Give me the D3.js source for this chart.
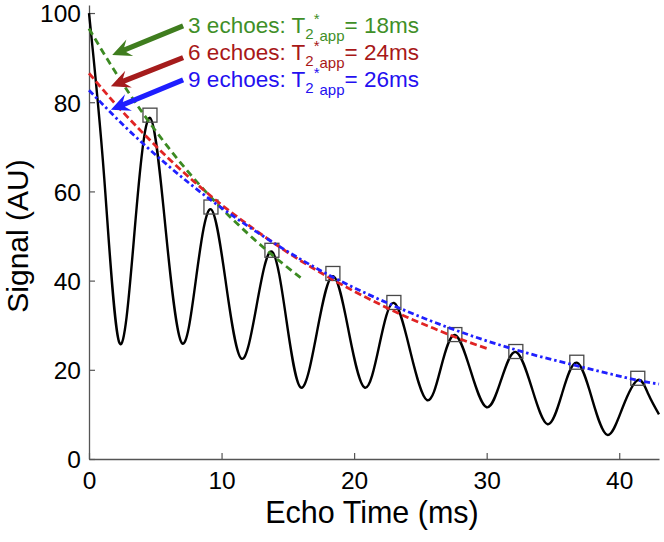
<!DOCTYPE html>
<html><head><meta charset="utf-8">
<script src="https://cdn.jsdelivr.net/npm/d3@7"></script>
<style>
body{margin:0;background:#fff}
svg{display:block}
text{font-family:"Liberation Sans",Arial,Helvetica,sans-serif}
</style>
</head><body>
<svg id="c" width="664" height="542"></svg>
<script>
// ---- data ----
const signalTime  = [0, 1.15, 2.3, 3.45, 4.6, 5.8, 7.0, 8.1, 9.2, 10.35, 11.5, 12.65, 13.8, 14.9, 16.0, 17.2, 18.4, 19.6, 20.8, 21.9, 23.0, 24.25, 25.5, 26.55, 27.6, 28.8, 30.0, 31.1, 32.2, 33.4, 34.6, 35.7, 36.8, 37.95, 39.1, 40.25, 41.4, 42.2, 43.0];
const signalValue = [100, 63, 26, 51.5, 76.5, 51, 26, 41, 56, 39, 22.5, 34.5, 46.5, 31, 16, 28.5, 41, 28.5, 16, 25.5, 35, 24, 13.2, 20.5, 27.8, 19.7, 11.6, 17.8, 24, 16, 7.8, 14.8, 21.6, 13.5, 5.4, 11.5, 17.7, 14.5, 10];

const echoTime  = [4.6, 9.2, 13.8, 18.4, 23.0, 27.6, 32.2, 36.8, 41.4];
const echoValue = [77.1, 56.5, 46.8, 41.6, 35.1, 27.9, 24.1, 21.7, 18.1];

const fit3Time  = [0, 2, 4, 6, 8, 10, 12, 14, 16];
const fit3Value = [96.5, 86.7, 77.8, 69.8, 62.6, 56.2, 50.5, 45.3, 40.6];
const fit6Time  = [0, 2, 4, 6, 8, 10, 12, 14, 16, 18, 20, 22, 24, 26, 28, 30];
const fit6Value = [86.5, 79.6, 73.3, 67.4, 62.0, 57.0, 52.5, 48.3, 44.4, 40.9, 37.6, 34.6, 31.8, 29.3, 26.9, 24.8];
const fit9Time  = [0, 3, 6, 9, 12, 15, 18, 21, 24, 27, 30, 33, 36, 39, 42, 43];
const fit9Value = [82.7, 73.7, 65.7, 58.5, 52.2, 46.5, 41.4, 37.0, 33.1, 29.6, 26.5, 23.8, 21.5, 19.3, 17.3, 16.8];

const fitEchoes = ["3", "6", "9"];
const fitT2     = ["18", "24", "26"];
const fitColors = ["#3c8a22", "#e02424", "#2020ff"];
const textColors = ["#3f8f28", "#a81818", "#2410f0"];
const arrowColors = ["#3f7d1e", "#a51c1c", "#1e1eff"];

const xTicks = [0, 10, 20, 30, 40];
const yTicks = [0, 20, 40, 60, 80, 100];
const xTitle = "Echo Time (ms)";
const yTitle = "Signal (AU)";

// annotation anchors (data coords)
const arrowTailT = [7.1, 7.1, 7.1];
const arrowTailV = [97.1, 90.0, 85.0];
const arrowTipT  = [1.75, 1.65, 1.65];
const arrowTipV  = [90.6, 83.6, 78.3];

// ---- chart ----
const svg = d3.select("#c");
const x = d3.scaleLinear().domain([0, 43]).range([89, 659]);
const y = d3.scaleLinear().domain([0, 101.8]).range([459, 5]);

const axisColor = "#555";
const gx = svg.append("g").attr("transform", `translate(0,${y(0)})`)
  .call(d3.axisBottom(x).tickValues(xTicks).tickSizeInner(-6).tickSizeOuter(0).tickPadding(13));
const gy = svg.append("g").attr("transform", `translate(${x(0)},0)`)
  .call(d3.axisLeft(y).tickValues(yTicks).tickSizeInner(-6).tickSizeOuter(0).tickPadding(8));
[gx, gy].forEach(g => {
  g.select(".domain").attr("stroke", axisColor).attr("stroke-width", 1.3);
  g.selectAll(".tick line").attr("stroke", axisColor).attr("stroke-width", 1.2);
  g.selectAll(".tick text").attr("fill", "#000").style("font-size", "24.5px")
    .style("font-family", '"Liberation Sans",Arial,sans-serif');
});
gy.selectAll(".tick text").attr("dy", "0.36em");

svg.append("text").attr("x", (x(0) + x(43)) / 2 - 2).attr("y", 523)
  .attr("text-anchor", "middle").style("font-size", "30.5px").text(xTitle);
svg.append("text").attr("transform", `translate(28,${(y(0) + y(100)) / 2}) rotate(-90)`)
  .attr("text-anchor", "middle").style("font-size", "30px").text(yTitle);

// signal curve
const sig = signalTime.map((t, i) => [t, signalValue[i]]);
svg.append("path").datum(sig)
  .attr("d", d3.line().x(d => x(d[0])).y(d => y(d[1])).curve(d3.curveNatural))
  .attr("fill", "none").attr("stroke", "#000").attr("stroke-width", 2.4);

// echo markers
svg.append("g").selectAll("rect").data(echoTime.map((t, i) => [t, echoValue[i]])).join("rect")
  .attr("x", d => x(d[0]) - 7).attr("y", d => y(d[1]) - 7)
  .attr("width", 14).attr("height", 14)
  .attr("fill", "none").attr("stroke", "#484848").attr("stroke-width", 1.3);

// fits
const fits = [
  {t: fit3Time, v: fit3Value, dash: "7,4.5"},
  {t: fit6Time, v: fit6Value, dash: "7,3.5"},
  {t: fit9Time, v: fit9Value, dash: "6,3,2.5,3"}
];
const fitLine = d3.line().x(d => x(d[0])).y(d => y(d[1])).curve(d3.curveMonotoneX);
fits.forEach((f, i) => {
  svg.append("path").datum(f.t.map((t, j) => [t, f.v[j]]))
    .attr("d", fitLine).attr("fill", "none")
    .attr("stroke", fitColors[i]).attr("stroke-width", 2.8)
    .attr("stroke-dasharray", f.dash);
});

// arrows
function arrow(x1, y1, x2, y2, color) {
  const dx = x2 - x1, dy = y2 - y1, L = Math.hypot(dx, dy);
  const ux = dx / L, uy = dy / L, nx = -uy, ny = ux;
  const hl = 19, hw = 9, notch = 5, sw = 2.6;
  const bx = x2 - ux * hl, by = y2 - uy * hl;
  const nxp = x2 - ux * (hl - notch), nyp = y2 - uy * (hl - notch);
  const p = [
    [x1 + nx * sw, y1 + ny * sw],
    [nxp + nx * sw, nyp + ny * sw],
    [bx + nx * hw, by + ny * hw],
    [x2, y2],
    [bx - nx * hw, by - ny * hw],
    [nxp - nx * sw, nyp - ny * sw],
    [x1 - nx * sw, y1 - ny * sw]
  ];
  svg.append("path").attr("d", "M" + p.map(q => q.join(",")).join("L") + "Z").attr("fill", color);
}
fitEchoes.forEach((e, i) => {
  arrow(x(arrowTailT[i]), y(arrowTailV[i]), x(arrowTipT[i]), y(arrowTipV[i]), arrowColors[i]);
});

// labels
fitEchoes.forEach((e, i) => {
  const tx = svg.append("text").attr("x", x(arrowTailT[i]) + 5).attr("y", 33 + i * 27)
    .attr("fill", textColors[i]).style("font-size", "22.5px");
  tx.append("tspan").text(`${e} echoes: T`);
  tx.append("tspan").attr("dy", 6).style("font-size", "15px").text("2");
  tx.append("tspan").attr("dy", -15).style("font-size", "15px").text("*");
  tx.append("tspan").attr("dy", 17).style("font-size", "15px").text("app");
  tx.append("tspan").attr("dy", -8).text(`= ${fitT2[i]}ms`);
});
</script>
</body></html>
